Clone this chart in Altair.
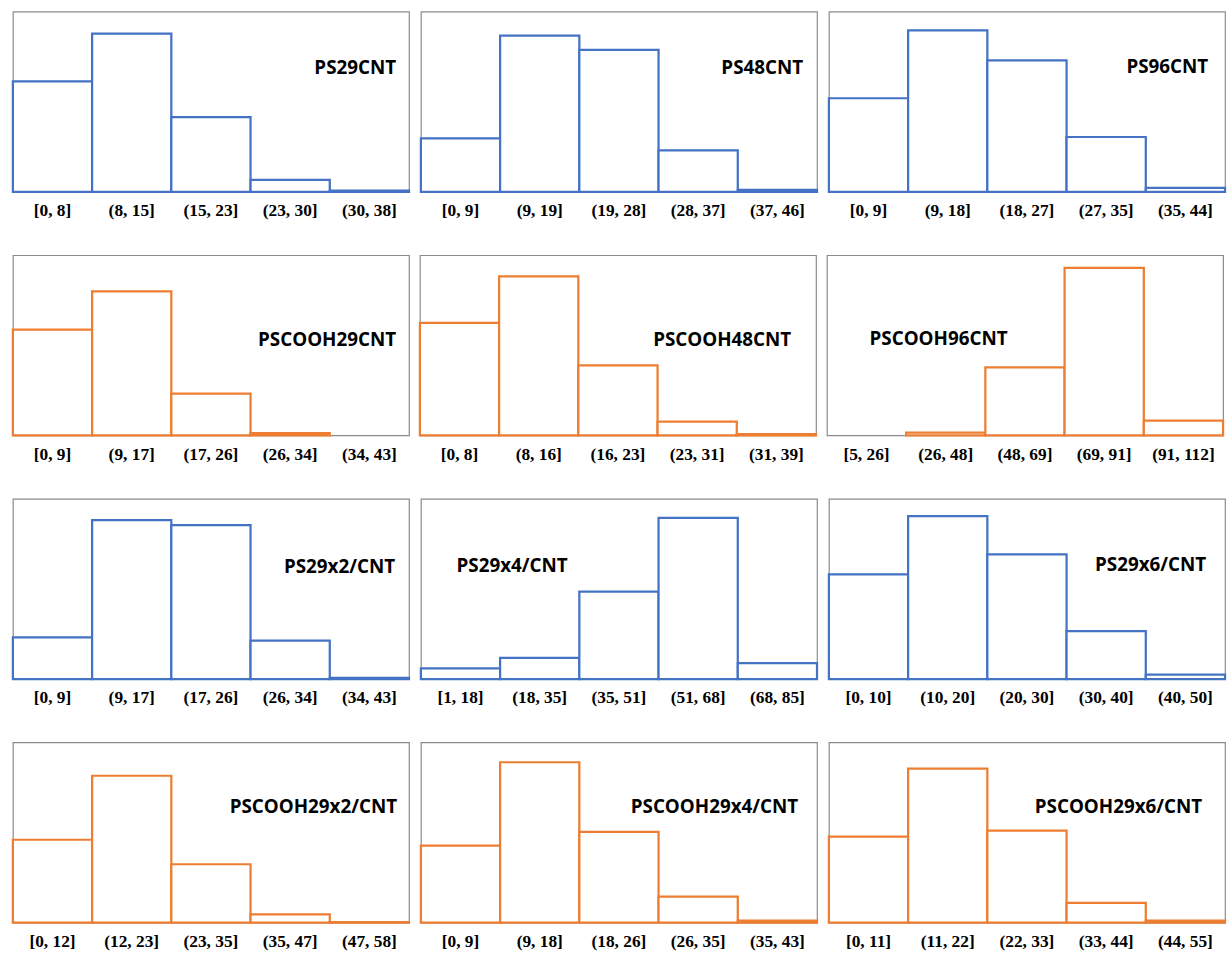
import altair as alt
import pandas as pd

# Bin labels (diameter ranges) and relative heights for each histogram
labels_ps29 = ["[0, 8]", "(8, 15]", "(15, 23]", "(23, 30]", "(30, 38]"]
values_ps29 = [61.3, 87.8, 41.4, 6.6, 0.6]

labels_ps48 = ["[0, 9]", "(9, 19]", "(19, 28]", "(28, 37]", "(37, 46]"]
values_ps48 = [29.7, 86.6, 78.8, 23.0, 1.1]

labels_ps96 = ["[0, 9]", "(9, 18]", "(18, 27]", "(27, 35]", "(35, 44]"]
values_ps96 = [51.9, 89.5, 72.9, 30.4, 2.2]

labels_pscooh29 = ["[0, 9]", "(9, 17]", "(17, 26]", "(26, 34]", "(34, 43]"]
values_pscooh29 = [58.7, 79.9, 23.2, 1.3, 0.0]

labels_pscooh48 = ["[0, 8]", "(8, 16]", "(16, 23]", "(23, 31]", "(31, 39]"]
values_pscooh48 = [62.5, 88.2, 38.8, 7.6, 0.7]

labels_pscooh96 = ["[5, 26]", "(26, 48]", "(48, 69]", "(69, 91]", "(91, 112]"]
values_pscooh96 = [0.0, 1.5, 37.8, 93.0, 8.2]

labels_ps29x2 = ["[0, 9]", "(9, 17]", "(17, 26]", "(26, 34]", "(34, 43]"]
values_ps29x2 = [23.1, 88.2, 85.4, 21.3, 0.6]

labels_ps29x4 = ["[1, 18]", "(18, 35]", "(35, 51]", "(51, 68]", "(68, 85]"]
values_ps29x4 = [5.9, 11.7, 48.5, 89.4, 8.8]

labels_ps29x6 = ["[0, 10]", "(10, 20]", "(20, 30]", "(30, 40]", "(40, 50]"]
values_ps29x6 = [58.1, 90.4, 69.2, 26.6, 2.5]

labels_pscooh29x2 = ["[0, 12]", "(12, 23]", "(23, 35]", "(35, 47]", "(47, 58]"]
values_pscooh29x2 = [46.0, 81.5, 32.4, 4.6, 0.3]

labels_pscooh29x4 = ["[0, 9]", "(9, 18]", "(18, 26]", "(26, 35]", "(35, 43]"]
values_pscooh29x4 = [42.7, 89.0, 50.4, 14.5, 1.1]

labels_pscooh29x6 = ["[0, 11]", "(11, 22]", "(22, 33]", "(33, 44]", "(44, 55]"]
values_pscooh29x6 = [47.7, 85.5, 51.0, 11.0, 1.1]

BLUE = "#4472C4"
ORANGE = "#ED7D31"

PANEL_W = 400
PANEL_H = 182

SERIF = "'Liberation Serif', 'Times New Roman', serif"

# name, labels, values, colour, (title alignment, title x, title y)
panels = [
    [("PS29CNT", labels_ps29, values_ps29, BLUE, ("right", 387, 57)),
     ("PS48CNT", labels_ps48, values_ps48, BLUE, ("right", 386, 57)),
     ("PS96CNT", labels_ps96, values_ps96, BLUE, ("right", 383, 56))],
    [("PSCOOH29CNT", labels_pscooh29, values_pscooh29, ORANGE, ("right", 387, 86)),
     ("PSCOOH48CNT", labels_pscooh48, values_pscooh48, ORANGE, ("right", 375, 86)),
     ("PSCOOH96CNT", labels_pscooh96, values_pscooh96, ORANGE, ("left", 43, 85))],
    [("PS29x2/CNT", labels_ps29x2, values_ps29x2, BLUE, ("right", 386, 69)),
     ("PS29x4/CNT", labels_ps29x4, values_ps29x4, BLUE, ("left", 36, 68)),
     ("PS29x6/CNT", labels_ps29x6, values_ps29x6, BLUE, ("right", 381, 67))],
    [("PSCOOH29x2/CNT", labels_pscooh29x2, values_pscooh29x2, ORANGE, ("right", 388, 65)),
     ("PSCOOH29x4/CNT", labels_pscooh29x4, values_pscooh29x4, ORANGE, ("right", 381, 65)),
     ("PSCOOH29x6/CNT", labels_pscooh29x6, values_pscooh29x6, ORANGE, ("right", 377, 65))],
]


def histogram(name, labels, values, color, title_pos):
    df = pd.DataFrame({"bin": labels, "v": values})
    bars = (
        alt.Chart(df)
        .transform_filter("datum.v > 0")
        .mark_bar(fill="white", stroke=color, strokeWidth=2.25)
        .encode(
            x=alt.X(
                "bin:N",
                sort=labels,
                scale=alt.Scale(domain=labels, paddingInner=0, paddingOuter=0),
                axis=alt.Axis(
                    title=None,
                    labelAngle=0,
                    ticks=False,
                    domain=False,
                    labelFont=SERIF,
                    labelFontWeight="bold",
                    labelFontSize=17.5,
                    labelColor="#000000",
                    labelPadding=10,
                ),
            ),
            y=alt.Y("v:Q", scale=alt.Scale(domain=[0, 100]), axis=None),
        )
    )
    align, tx, ty = title_pos
    title = (
        alt.Chart(pd.DataFrame({"name": [name]}))
        .mark_text(
            align=align,
            baseline="middle",
            font="Open Sans",
            fontWeight="bold",
            fontSize=19,
            color="#000000",
        )
        .encode(x=alt.value(tx), y=alt.value(ty), text="name:N")
    )
    return alt.layer(bars, title).properties(width=PANEL_W, height=PANEL_H)


rows = [
    alt.hconcat(*[histogram(*p) for p in row], spacing=8).resolve_scale(
        x="independent", y="independent"
    )
    for row in panels
]

chart = (
    alt.vconcat(*rows, spacing=34)
    .resolve_scale(x="independent", y="independent")
    .properties(
        padding={"left": 11, "top": 6, "right": 0, "bottom": 0},
        background="white",
    )
    .configure_view(stroke="#8a8a8a", strokeWidth=1.2)
    .configure_axis(
        labelFont=SERIF,
        labelFontWeight="bold",
        labelFontSize=17.5,
        labelColor="#000000",
    )
)

chart.save("out.html", embed_options={"renderer": "svg", "actions": False})
